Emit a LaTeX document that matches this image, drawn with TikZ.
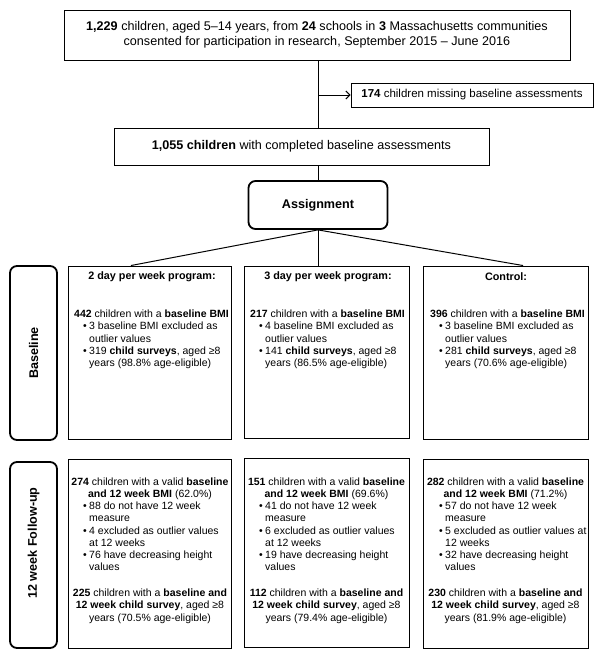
\documentclass[tikz,border=0pt]{standalone}
\usepackage{fontspec}
\setmainfont{Liberation Sans}
\usetikzlibrary{arrows.meta,calc}
\tikzset{
  box/.style={draw=black, line width=0.9pt, inner sep=0pt},
  rbox/.style={draw=black, line width=1.8pt, rounded corners=7pt, inner sep=0pt},
  conn/.style={draw=black, line width=1pt},
  body/.style={inner sep=0pt, align=left, font=\fontsize{10.5}{12.1}\selectfont, anchor=north west},
  cbody/.style={inner sep=0pt, align=center, font=\fontsize{10.5}{12.1}\selectfont, anchor=north},
  headtxt/.style={inner sep=0pt, font=\bfseries\fontsize{10.8}{12.1}\selectfont},
  sidetxt/.style={inner sep=0pt, rotate=90, font=\bfseries\fontsize{12.6}{15}\selectfont},
}
\newcommand{\bitem}{\hspace*{9pt}\makebox[6pt][l]{\textbullet}}
\newcommand{\bcont}{\hspace*{15pt}}
\begin{document}
\begin{tikzpicture}[x=1pt,y=-1pt]
\useasboundingbox (0,0) rectangle (603,662);
\fill[white] (0,0) rectangle (603,662);

% top part
\node[box, minimum width=506pt, minimum height=50pt, align=center, font=\fontsize{12.6}{15}\selectfont] (top) at (317,35)
  {\textbf{1,229} children, aged 5–14 years, from \textbf{24} schools in \textbf{3} Massachusetts communities\\consented for participation in research, September 2015 – June 2016};
\node[box, minimum width=242pt, minimum height=24pt, font=\fontsize{11.5}{13}\selectfont] (miss) at (472,95)
  {\textbf{174} children missing baseline assessments};
\node[box, minimum width=375pt, minimum height=37pt, font=\fontsize{12.6}{15}\selectfont] (base) at (301.5,146.5)
  {\textbf{1,055 children} with completed baseline assessments};
\node[rbox, minimum width=139pt, minimum height=48pt, font=\bfseries\fontsize{12.6}{15}\selectfont] (assign) at (318,205) {Assignment};

% group boxes
\node[box, minimum width=163.5pt, minimum height=173pt] (b1) at (149.75,352.5) {};
\node[box, minimum width=165pt, minimum height=172pt] (b2) at (326.5,352) {};
\node[box, minimum width=165pt, minimum height=173pt] (b3) at (505.5,352.5) {};
\node[box, minimum width=163.5pt, minimum height=189pt] (f1) at (149.75,553.5) {};
\node[box, minimum width=165pt, minimum height=189pt] (f2) at (326.5,552.5) {};
\node[box, minimum width=165pt, minimum height=189pt] (f3) at (505.5,553.5) {};

% side labels
\node[rbox, minimum width=47pt, minimum height=174pt] (sb) at (33.5,353) {};
\node[sidetxt] (sbl) at (sb.center) {Baseline};
\node[rbox, minimum width=47pt, minimum height=186pt] (sf) at (33.5,555) {};
\node[sidetxt] (sfl) at (33.5,543) {12 week Follow-up};

% connectors
\draw[conn] (top.south -| assign.north) -- (assign.north |- base.north);
\draw[conn, -{Straight Barb[length=4pt,width=8pt]}] (assign.north |- miss.west) -- (miss.west);
\draw[conn] (assign.north |- base.south) -- (assign.north);
\coordinate (b1in) at ($(b1.north west)!0.385!(b1.north east)$);
\coordinate (b3in) at ($(b3.north west)!0.606!(b3.north east)$);
\draw[conn] (assign.south) -- (b1in);
\draw[conn] (assign.south) -- (assign.south |- b2.north);
\draw[conn] (assign.south) -- (b3in);

% baseline texts
\node[headtxt] (b1h) at (152,277) {2 day per week program:};
\node[headtxt] (b2h) at (328,277) {3 day per week program:};
\node[headtxt] (b3h) at (506,277) {Control:};

\node[body] (b1t) at (74,310) {\textbf{442} children with a \textbf{baseline BMI}\\
\bitem 3 baseline BMI excluded as\\
\bcont outlier values\\
\bitem 319 \textbf{child surveys}, aged ≥8\\
\bcont years (98.8\% age-eligible)};
\node[body] (b2t) at (250,310) {\textbf{217} children with a \textbf{baseline BMI}\\
\bitem 4 baseline BMI excluded as\\
\bcont outlier values\\
\bitem 141 \textbf{child surveys}, aged ≥8\\
\bcont years (86.5\% age-eligible)};
\node[body] (b3t) at (430,310) {\textbf{396} children with a \textbf{baseline BMI}\\
\bitem 3 baseline BMI excluded as\\
\bcont outlier values\\
\bitem 281 \textbf{child surveys}, aged ≥8\\
\bcont years (70.6\% age-eligible)};

% follow-up texts
\node[cbody] (f1a) at (150,478) {\textbf{274} children with a valid \textbf{baseline}\\\textbf{and 12 week BMI} (62.0\%)};
\node[body] (f1b) at (74,502) {\bitem 88 do not have 12 week\\
\bcont measure\\
\bitem 4 excluded as outlier values\\
\bcont at 12 weeks\\
\bitem 76 have decreasing height\\
\bcont values};
\node[cbody] (f1c) at (150,589) {\textbf{225} children with a \textbf{baseline and}\\\textbf{12 week child survey}, aged ≥8\\years (70.5\% age-eligible)};

\node[cbody] (f2a) at (326.5,478) {\textbf{151} children with a valid \textbf{baseline}\\\textbf{and 12 week BMI} (69.6\%)};
\node[body] (f2b) at (250,502) {\bitem 41 do not have 12 week\\
\bcont measure\\
\bitem 6 excluded as outlier values\\
\bcont at 12 weeks\\
\bitem 19 have decreasing height\\
\bcont values};
\node[cbody] (f2c) at (326.5,589) {\textbf{112} children with a \textbf{baseline and}\\\textbf{12 week child survey}, aged ≥8\\years (79.4\% age-eligible)};

\node[cbody] (f3a) at (505.5,478) {\textbf{282} children with a valid \textbf{baseline}\\\textbf{and 12 week BMI} (71.2\%)};
\node[body] (f3b) at (430,502) {\bitem 57 do not have 12 week\\
\bcont measure\\
\bitem 5 excluded as outlier values at\\
\bcont 12 weeks\\
\bitem 32 have decreasing height\\
\bcont values};
\node[cbody] (f3c) at (505.5,589) {\textbf{230} children with a \textbf{baseline and}\\\textbf{12 week child survey}, aged ≥8\\years (81.9\% age-eligible)};
\end{tikzpicture}
\end{document}
